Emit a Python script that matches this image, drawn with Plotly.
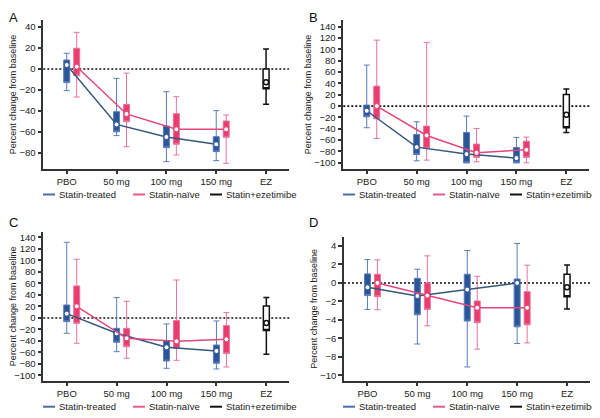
import plotly.graph_objects as go

doses = ["PBO", "50 mg", "100 mg", "150 mg"]
x_labels = doses + ["EZ"]
legend_labels = ["Statin-treated", "Statin-naïve", "Statin+ezetimibe"]
panel_letters = ["A", "B", "C", "D"]

# panel A  (low whisker, q1, q3, high whisker, mean) per dose
a_treated_low = [-20.7, -63.7, -88.6, -87.6]
a_treated_q1 = [-13, -60, -75.2, -79]
a_treated_q3 = [8.6, -40.8, -54.5, -64.7]
a_treated_high = [15, -9, -21.7, -39.8]
a_treated_mean = [3.8, -53, -65, -72]
a_naive_low = [-26.8, -74.3, -82.2, -90.2]
a_naive_q1 = [-6.4, -50.4, -72, -65.3]
a_naive_q3 = [19.8, -33.8, -42.7, -49.7]
a_naive_high = [35, -4, -26.5, -44]
a_naive_mean = [2.2, -43, -57.7, -57.7]
a_ez = [-33.8, -19, 0, 19, -12.7]

# panel B
b_treated_low = [-38.2, -96.5, -100, -100]
b_treated_q1 = [-18.8, -85.3, -100, -100]
b_treated_q3 = [1.8, -50, -46.5, -72.9]
b_treated_high = [72.4, -27.6, -17.6, -55.3]
b_treated_mean = [-8.2, -72.4, -84.7, -91.8]
b_naive_low = [-57, -95.3, -98.2, -100]
b_naive_q1 = [-22.4, -74.7, -90.6, -90.6]
b_naive_q3 = [35.3, -35.3, -67, -61.8]
b_naive_high = [116.5, 112.4, -39.4, -54.7]
b_naive_mean = [0, -51.8, -82.4, -77]
b_ez = [-46.5, -38.2, 20.6, 30, -15.3]

# panel C
c_treated_low = [-26.7, -58.6, -87.5, -88.7]
c_treated_q1 = [-6.4, -42.3, -74.8, -78.8]
c_treated_q3 = [22.6, -18, -39.4, -47]
c_treated_high = [131.6, 35.4, -10.4, -5.2]
c_treated_mean = [7.5, -26.7, -51, -57.4]
c_naive_low = [-44, -70.1, -73.6, -85.2]
c_naive_q1 = [-9.3, -49.9, -52.8, -62]
c_naive_q3 = [55.7, -18, -4.6, -13.3]
c_naive_high = [102, 29, 66, 9.3]
c_naive_mean = [20.3, -35.4, -40.6, -37.1]
c_ez = [-63.2, -22, 20.9, 35.4, -8.7]

# panel D
d_treated_low = [-2.86, -6.6, -9.08, -6.55]
d_treated_q1 = [-1.37, -3.44, -4.12, -4.74]
d_treated_q3 = [0.98, 0.5, 0.94, 0.43]
d_treated_high = [2.53, 1.48, 3.51, 4.27]
d_treated_mean = [-0.47, -1.41, -0.72, 0]
d_naive_low = [-2.9, -4.63, -7.16, -6.48]
d_naive_q1 = [-1.48, -2.86, -4.3, -4.52]
d_naive_q3 = [0.94, 0, -1.95, -0.94]
d_naive_high = [2.5, 2.93, 0.72, 1.92]
d_naive_mean = [0, -1.37, -2.68, -2.68]
d_ez = [-2.82, -1.48, 0.94, 1.95, -0.47]

# the page body has an 8px margin, so the figure is 8px smaller and
# every position below (measured on the 600x418 picture) is shifted back
PAD = 8
W, H = 600 - PAD, 418 - PAD
FONT = "Liberation Sans, Arial, sans-serif"


def px(v):
    return (v - PAD) / W


def py(v):
    return 1 - (v - PAD) / H


# box fill, whisker colour, mean line colour
BLUE = ("#2c5597", "#5a7cbd", "#35567f")
PINK = ("#eb3c6e", "#e9739b", "#e2467a")

panels = [
    dict(treated=(a_treated_low, a_treated_q1, a_treated_q3, a_treated_high, a_treated_mean),
         naive=(a_naive_low, a_naive_q1, a_naive_q3, a_naive_high, a_naive_mean),
         ez=a_ez, yrange=[-95.6, 46.8], dtick=20, box=(43.3, 289, 20, 169)),
    dict(treated=(b_treated_low, b_treated_q1, b_treated_q3, b_treated_high, b_treated_mean),
         naive=(b_naive_low, b_naive_q1, b_naive_q3, b_naive_high, b_naive_mean),
         ez=b_ez, yrange=[-111, 152], dtick=20, box=(343.3, 589.3, 20, 169)),
    dict(treated=(c_treated_low, c_treated_q1, c_treated_q3, c_treated_high, c_treated_mean),
         naive=(c_naive_low, c_naive_q1, c_naive_q3, c_naive_high, c_naive_mean),
         ez=c_ez, yrange=[-109.6, 150], dtick=20, box=(43.3, 289.3, 231.7, 381)),
    dict(treated=(d_treated_low, d_treated_q1, d_treated_q3, d_treated_high, d_treated_mean),
         naive=(d_naive_low, d_naive_q1, d_naive_q3, d_naive_high, d_naive_mean),
         ez=d_ez, yrange=[-10.6, 5.0], dtick=2, box=(344, 590, 236.7, 381)),
]

fig = go.Figure()
shapes = []
annotations = []
layout_axes = {}

for n, p in enumerate(panels, start=1):
    sfx = "" if n == 1 else str(n)
    xa, ya = "x" + sfx, "y" + sfx

    for key, shift, (fill, whisk, line) in [("treated", 0.0, BLUE), ("naive", 0.2, PINK)]:
        low, q1, q3, high, mean = p[key]
        pos = [i + shift for i in range(len(doses))]
        # the original shows no median line, so it sits on the box edge
        fig.add_trace(go.Box(x=pos, lowerfence=low, q1=q1, median=q1, q3=q3, upperfence=high,
                             width=0.12, whiskerwidth=1, fillcolor=fill,
                             line=dict(color=whisk, width=1), boxpoints=False,
                             hoverinfo="skip", showlegend=False, xaxis=xa, yaxis=ya))
        fig.add_trace(go.Scatter(x=pos, y=mean, mode="lines+markers",
                                 line=dict(color=line, width=1.5),
                                 marker=dict(color="white", size=5, line=dict(color=fill, width=1)),
                                 hoverinfo="skip", showlegend=False, xaxis=xa, yaxis=ya))

    ez_low, ez_q1, ez_q3, ez_high, ez_mean = p["ez"]
    fig.add_trace(go.Box(x=[len(doses)], lowerfence=[ez_low], q1=[ez_q1], median=[ez_q1], q3=[ez_q3],
                         upperfence=[ez_high], width=0.12, whiskerwidth=1, fillcolor="white",
                         line=dict(color="#111111", width=1.5), boxpoints=False,
                         hoverinfo="skip", showlegend=False, xaxis=xa, yaxis=ya))
    fig.add_trace(go.Scatter(x=[len(doses)], y=[ez_mean], mode="markers",
                             marker=dict(color="white", size=5, line=dict(color="#111111", width=1.5)),
                             hoverinfo="skip", showlegend=False, xaxis=xa, yaxis=ya))

    x0, x1, y0, y1 = p["box"]
    layout_axes["xaxis" + sfx] = dict(
        domain=[px(x0), px(x1)], anchor=ya, range=[-0.47, 4.46],
        tickvals=list(range(len(x_labels))), ticktext=x_labels,
        ticks="outside", ticklen=3, tickwidth=1.5, tickcolor="#333",
        showline=True, linecolor="#333", linewidth=1.5,
        showgrid=False, zeroline=False, tickfont=dict(size=9.5, color="#222"))
    layout_axes["yaxis" + sfx] = dict(
        domain=[py(y1), py(y0)], anchor=xa, range=p["yrange"], dtick=p["dtick"],
        ticks="outside", ticklen=4, tickwidth=1.5, tickcolor="#333",
        showline=True, linecolor="#333", linewidth=1.5,
        showgrid=False, zeroline=False, tickfont=dict(size=9.5, color="#222"),
        title=dict(text="Percent change from baseline", font=dict(size=9, color="#222"), standoff=1))

    # dotted zero line
    shapes.append(dict(type="line", xref=xa + " domain", yref=ya, x0=0, x1=1, y0=0, y1=0,
                       line=dict(color="#111", width=1.6, dash="2px,2px"), layer="below"))

    # panel letter
    left = 0 if n in (1, 3) else 300
    top_row = n in (1, 2)
    annotations.append(dict(text=panel_letters[n - 1], xref="paper", yref="paper",
                            x=px(left + 7), y=1 if top_row else py(222),
                            xanchor="left", yanchor="top" if top_row else "middle",
                            showarrow=False, font=dict(size=13, color="#111")))

    # legend row under each panel
    ly = 194.5 if top_row else 406.7
    for label, lx, col in zip(legend_labels, [43, 133, 210], ["#4c6ea6", "#e55a8a", "#111111"]):
        shapes.append(dict(type="line", xref="paper", yref="paper",
                           x0=px(left + lx), x1=px(left + lx + 12),
                           y0=py(ly), y1=py(ly), line=dict(color=col, width=2)))
        annotations.append(dict(text=label, xref="paper", yref="paper",
                                x=px(left + lx + 14), y=py(ly), xanchor="left", yanchor="middle",
                                showarrow=False, font=dict(size=9.5, color="#222")))

fig.update_layout(
    width=W, height=H,
    margin=dict(l=0, r=0, t=0, b=0),
    paper_bgcolor="white", plot_bgcolor="white",
    font=dict(family=FONT, color="#222"),
    shapes=shapes, annotations=annotations,
    boxmode="overlay",
)
fig.update_layout(**layout_axes)

fig.write_html("out.html")
